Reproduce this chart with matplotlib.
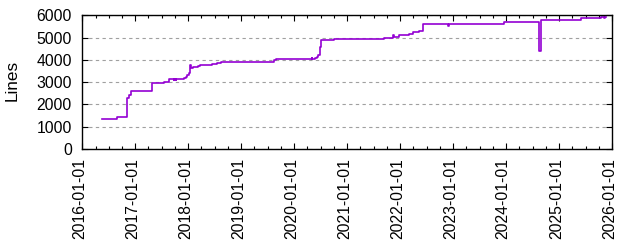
import matplotlib
matplotlib.use("Agg")
import matplotlib.pyplot as plt
import matplotlib.dates as mdates
import matplotlib.transforms as mtransforms
import numpy as np
from datetime import datetime

plt.rcParams['font.family'] = ['Liberation Sans', 'DejaVu Sans']

dates = [
    "2016-05-16", "2016-08-29", "2016-11-06", "2016-11-20", "2016-12-04",
    "2017-04-23", "2017-07-19", "2017-08-22", "2017-09-24", "2017-09-27",
    "2017-10-06", "2017-10-09", "2017-12-02", "2017-12-16", "2017-12-25",
    "2018-01-03", "2018-01-09", "2018-01-14", "2018-01-19", "2018-01-31",
    "2018-03-10", "2018-03-22", "2018-06-13", "2018-07-19", "2018-08-14",
    "2019-04-11", "2019-08-15", "2019-08-29", "2020-04-29", "2020-05-05",
    "2020-05-23", "2020-06-06", "2020-06-15", "2020-06-29", "2020-07-05",
    "2020-10-01", "2021-09-12", "2021-11-13", "2021-11-16", "2021-12-20",
    "2022-03-01", "2022-03-31", "2022-05-11", "2022-06-08", "2022-11-27",
    "2022-12-02", "2023-12-17", "2024-08-15", "2024-08-28", "2025-05-27",
    "2025-10-15", "2025-11-07", "2025-11-09", "2025-11-17",
]
lines = [
    1359, 1422, 2274, 2408, 2614,
    2946, 3018, 3126, 3090, 3126,
    3090, 3126, 3170, 3220, 3300,
    3400, 3480, 3767, 3646, 3664,
    3709, 3753, 3798, 3843, 3888,
    3915, 3978, 4022, 4094, 4036,
    4080, 4126, 4202, 4587, 4874,
    4919, 4964, 5099, 5022, 5099,
    5157, 5247, 5285, 5592, 5516,
    5592, 5682, 4417, 5771, 5861,
    5906, 5870, 5906, 5906,
]
tick_years = list(range(2016, 2027))
ylabel = "Lines"

x = [datetime.strptime(d, "%Y-%m-%d") for d in dates]

fig = plt.figure(figsize=(6.4, 2.4), dpi=100)
ax = fig.add_axes([82.3/640, 1-149/240, (612.3-82.3)/640, (149-15.3)/240])

ax.plot(x, lines, drawstyle='steps-post', color='#9400D3', linewidth=1.2)

ax.set_xlim(datetime(2016, 1, 1), datetime(2026, 1, 1))
ax.set_ylim(0, 6000)
ax.set_yticks(np.arange(0, 6001, 1000))
ax.set_xticks([datetime(y, 1, 1) for y in tick_years])
ax.xaxis.set_major_formatter(mdates.DateFormatter("%Y-%m-%d"))
ax.xaxis.set_minor_locator(mdates.MonthLocator(bymonth=[4, 7, 10]))

ax.grid(axis='y', color='#a0a0a0', linestyle=(0, (3, 3)), linewidth=0.8)
ax.set_axisbelow(True)

for s in ax.spines.values():
    s.set_linewidth(1.0)
    s.set_color('black')

ax.tick_params(axis='x', which='major', direction='in', top=True, bottom=True,
               length=4, width=0.8, labelsize=11.3, pad=6.5, labelrotation=90)
ax.tick_params(axis='x', which='minor', direction='in', top=True, bottom=True,
               length=2.5, width=0.8)
ax.tick_params(axis='y', which='major', direction='in', left=True, right=True,
               length=4, width=0.8, labelsize=11.3, pad=7.5)

offset = mtransforms.ScaledTranslation(-3/100, 0, fig.dpi_scale_trans)
for lab in ax.get_xticklabels():
    lab.set_horizontalalignment('center')
    lab.set_transform(lab.get_transform() + offset)

fig.text(12.5/640, 1-80/240, ylabel, rotation=90, ha='center', va='center', fontsize=12.3)

fig.savefig("out.png", dpi=100)
